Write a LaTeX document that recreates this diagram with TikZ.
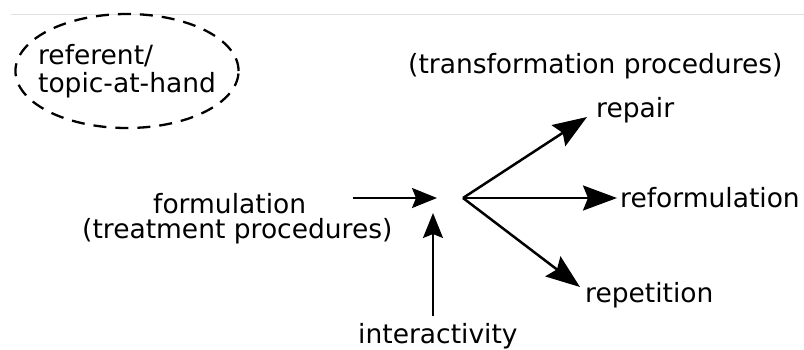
\documentclass[tikz,border=0pt]{standalone}
\usepackage{fontspec}
\setmainfont{DejaVu Sans}
\usetikzlibrary{arrows.meta,shapes.geometric}
\tikzset{
	lbl/.style={inner sep=0pt, anchor=base west, font=\fontsize{26.5}{28}\selectfont},
	topicbox/.style={draw, ellipse, dashed, line width=2.3pt, dash pattern=on 13pt off 9pt,
		inner xsep=-10pt, inner ysep=0pt, minimum height=114pt, align=left,
		font=\fontsize{26.5}{28}\selectfont},
	fanarrow/.style={line width=2.5pt, -{Stealth[length=34pt,width=25pt,inset=5pt]}},
	inarrow/.style={line width=2pt, -{Stealth[length=25pt,width=20pt,inset=4pt]}},
}
\begin{document}
\begin{tikzpicture}[x=1pt,y=-1pt]
		\useasboundingbox (0,0) rectangle (804,349);
		\draw [black!12, line width=1pt] (11,14) -- (804,14);
		\node [topicbox] (topic) at (127,71) {referent/\\topic-at-hand};
		\node [lbl] (transproc) at (408,73) {(transformation procedures)};
		\node [lbl] (repair) at (596,117) {repair};
		\node [lbl] (reform) at (620,207) {reformulation};
		\node [lbl] (repet) at (585,302) {repetition};
		\node [lbl] (formul) at (153,213) {formulation};
		\node [lbl] (treatproc) at (82,238) {(treatment procedures)};
		\node [lbl] (interact) at (358,343) {interactivity};
		\coordinate (hub) at (463,198);
		\coordinate (instart) at (353,198);
		\coordinate (inend) at (437,198);
		\coordinate (upstart) at (433,316);
		\coordinate (upend) at (433,213);
		\coordinate (repairtip) at (587,117);
		\coordinate (reformtip) at (617,198);
		\coordinate (repettip) at (580,287);
		\draw [inarrow] (instart) -- (inend);
		\draw [inarrow] (upstart) -- (upend);
		\draw [fanarrow] (hub) -- (repairtip);
		\draw [fanarrow] (hub) -- (reformtip);
		\draw [fanarrow] (hub) -- (repettip);
	\end{tikzpicture}
\end{document}
